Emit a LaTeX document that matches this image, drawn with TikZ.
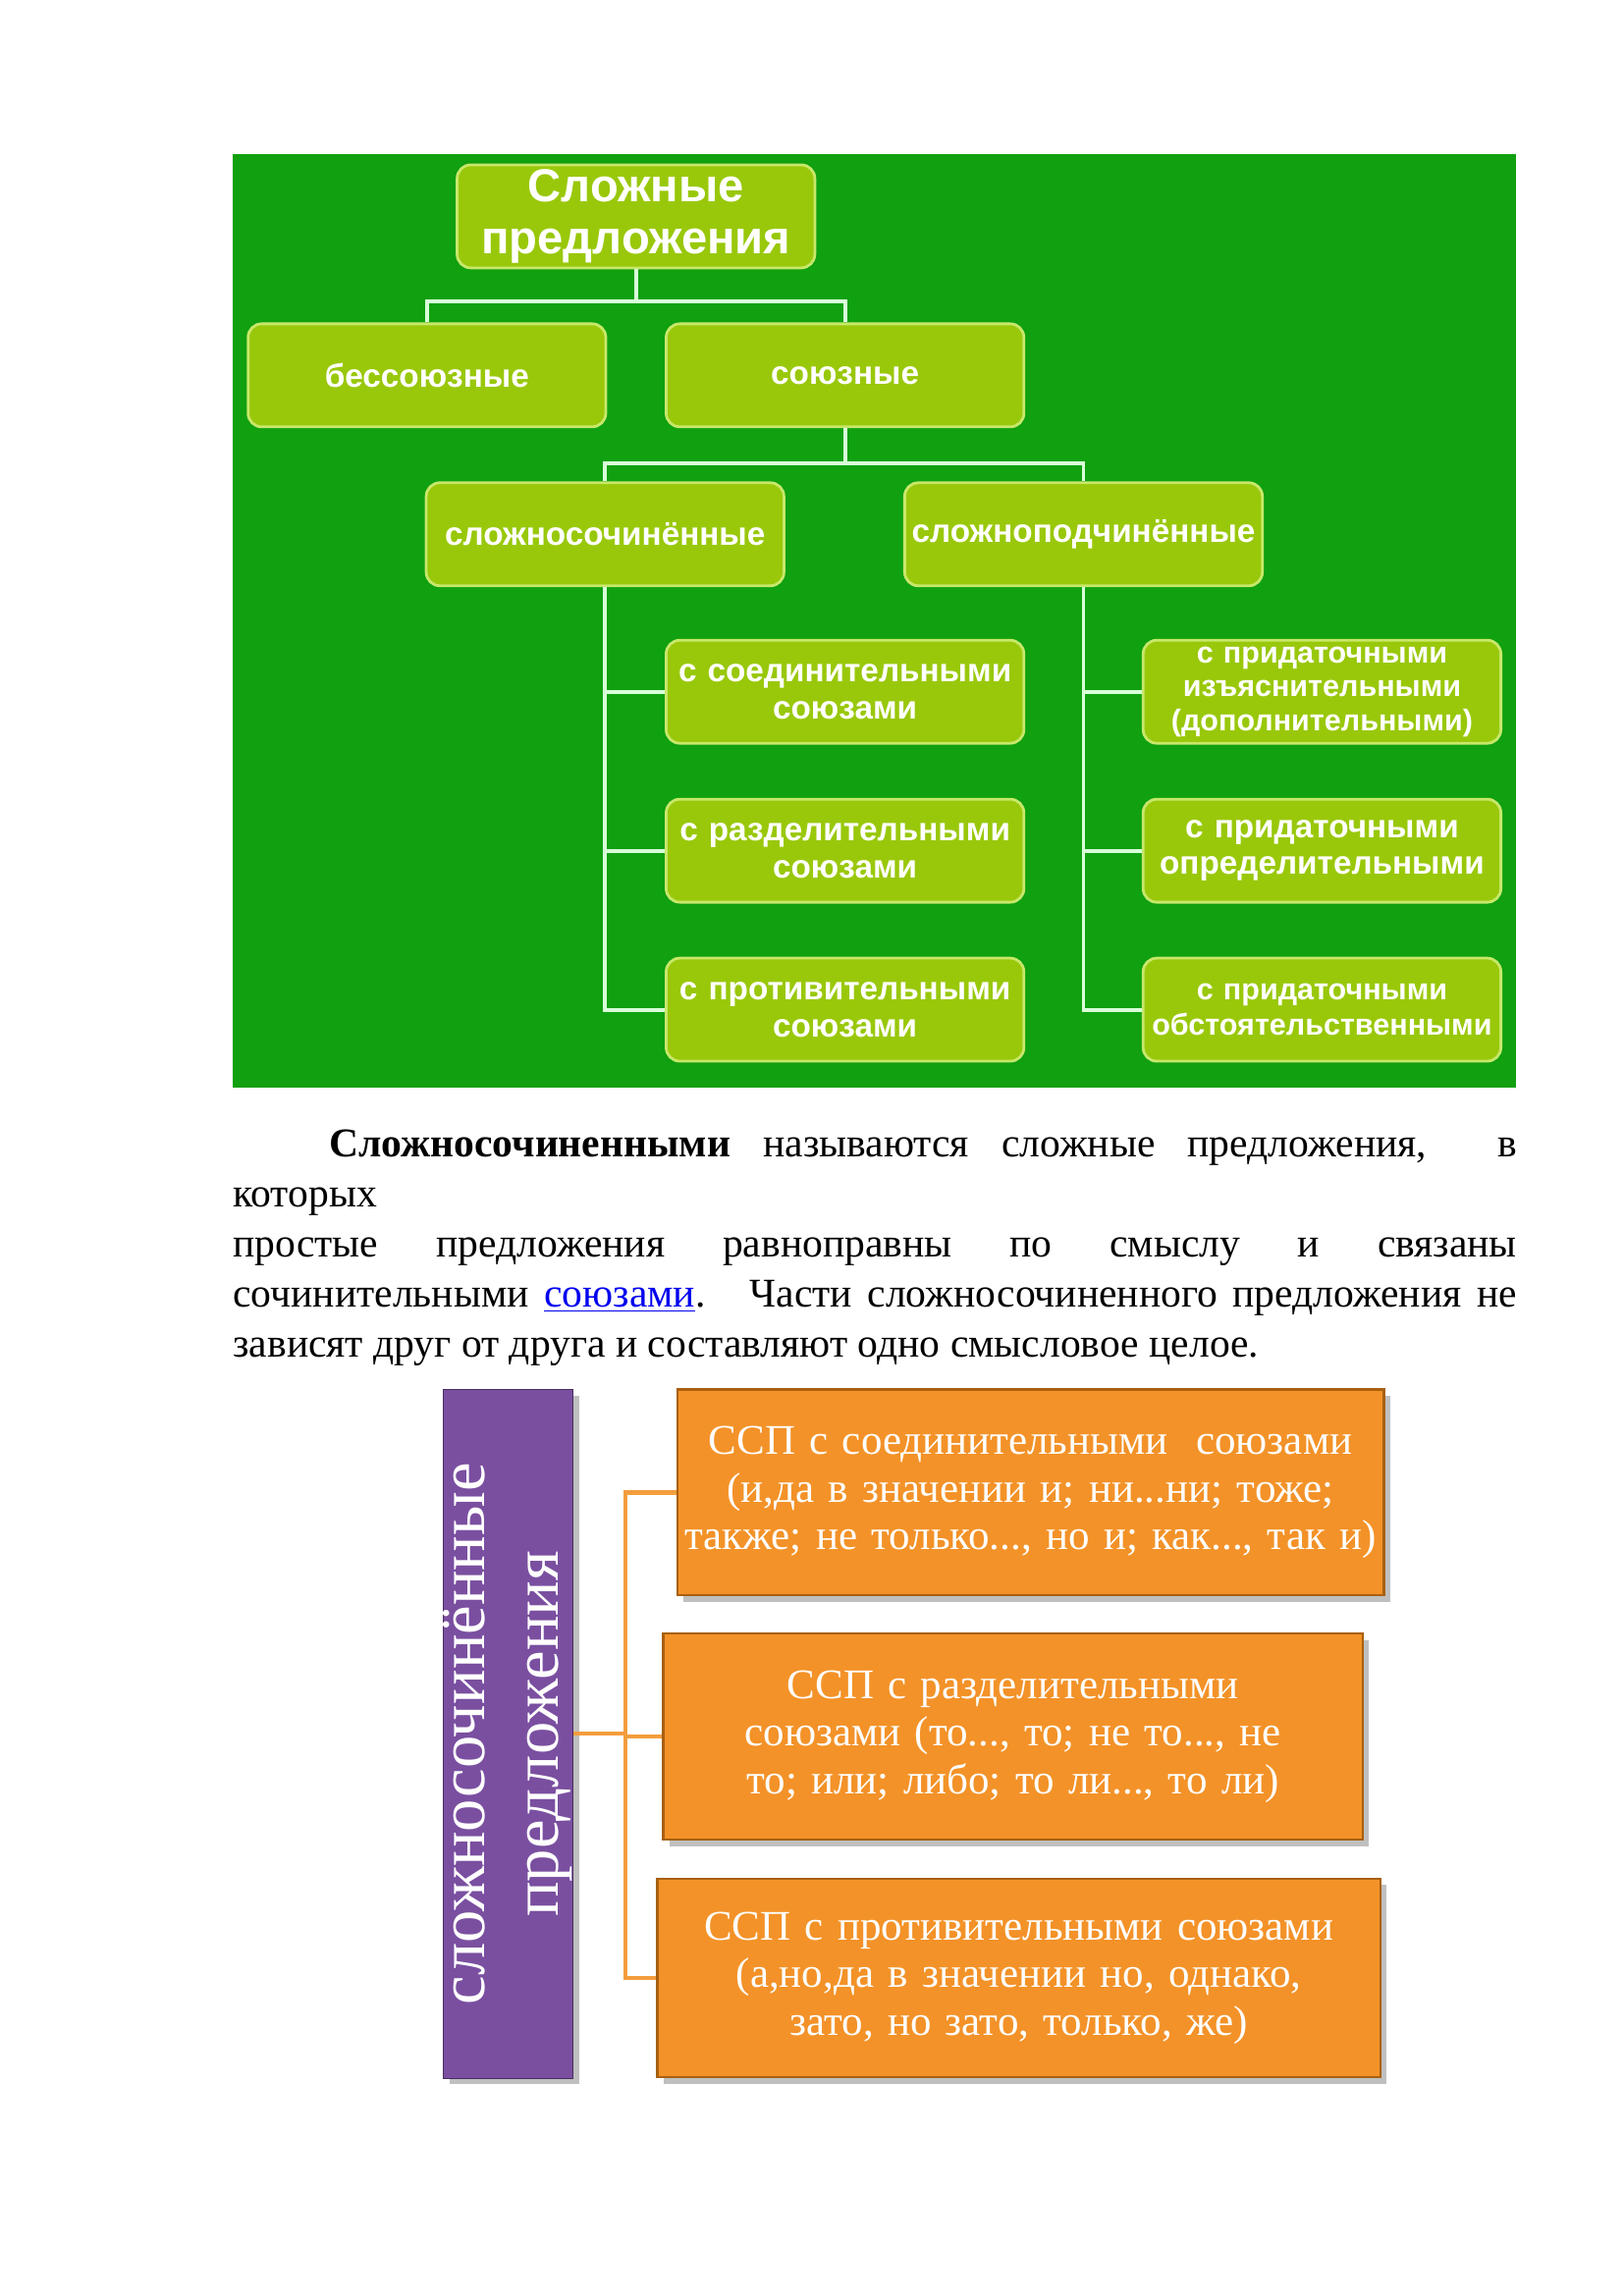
\documentclass[tikz,border=0pt]{standalone}
\usepackage{fontspec}
\setmainfont{Liberation Serif}
\newfontfamily\boxfont{Liberation Sans}
\usetikzlibrary{positioning,shadows}
\definecolor{panelgreen}{HTML}{10A010}
\definecolor{boxgreen}{HTML}{99C80A}
\definecolor{boxline}{HTML}{C8E86A}
\definecolor{ssporange}{HTML}{F39228}
\definecolor{sspline}{HTML}{A86010}
\definecolor{sspviolet}{HTML}{7A4FA0}
\definecolor{linkblue}{HTML}{0000EE}
\tikzset{
  gbox/.style={draw=boxline, line width=1pt, fill=boxgreen, rounded corners=5pt,
    minimum width=243*0.019cm, minimum height=70*0.019cm, inner sep=0pt,
    text width=240*0.019cm, align=center, text=white,
    font=\boxfont\bfseries\fontsize{12}{13.5}\selectfont},
  glink/.style={draw=white!85!green, line width=1.4pt},
  obox/.style={draw=sspline, line width=0.8pt, fill=ssporange, drop shadow,
    align=center, text=white, inner sep=0pt, font=\fontsize{15.5}{17.5}\selectfont},
  olink/.style={draw=ssporange!90!white, line width=1.6pt},
}
\begin{document}
\begin{tikzpicture}[x=0.019cm,y=-0.019cm]
  \useasboundingbox[fill=white] (0,0) rectangle (1103,1560);
  % green panel
  \fill[panelgreen] (158,105) rectangle (1030,739);

  % top levels
  \node[gbox, font=\boxfont\bfseries\fontsize{17}{19}\selectfont] (cp) at (432,147) {Сложные\\предложения};
  \node[gbox] (bs) at (290,255) {бессоюзные};
  \node[gbox] (su) at (574,255) {союзные};
  \node[gbox] (sch) at (411,363) {сложносочинённые};
  \node[gbox] (spch) at (736,363) {сложноподчинённые};

  % children
  \node[gbox] (s1) at (574,470) {с соединительными\\союзами};
  \node[gbox] (s2) at (574,578) {с разделительными\\союзами};
  \node[gbox] (s3) at (574,686) {с противительными\\союзами};
  \node[gbox, font=\boxfont\bfseries\fontsize{11}{12.5}\selectfont] (p1) at (898,470) {с придаточными\\изъяснительными\\(дополнительными)};
  \node[gbox] (p2) at (898,578) {с придаточными\\определительными};
  \node[gbox, font=\boxfont\bfseries\fontsize{11}{13}\selectfont] (p3) at (898,686) {с придаточными\\обстоятельственными};

  % connectors
  \coordinate (j1) at (432,205);
  \coordinate (j2) at (574,315);
  \draw[glink] (cp.south) -- (j1) -| (bs.north);
  \draw[glink] (j1) -| (su.north);
  \draw[glink] (su.south) -- (j2) -| (sch.north);
  \draw[glink] (j2) -| (spch.north);
  \foreach \c in {s1,s2,s3}
    \draw[glink] (sch.south) |- (\c.west);
  \foreach \c in {p1,p2,p3}
    \draw[glink] (spch.south) |- (\c.west);

  % paragraph
  \node[anchor=north west, text width=872*0.019cm, align=justify, inner sep=0pt,
    font=\fontsize{15}{18.4}\selectfont] (txt) at (158,767) {\hspace*{2.35em}\textbf{Сложносочиненными} называются сложные предложения, \ в которых\linebreak простые предложения равноправны по смыслу и связаны\linebreak сочинительными {\color{linkblue}\underline{союзами}}. \ Части сложносочиненного предложения не\linebreak зависят друг от друга и составляют одно смысловое целое.};

  % bottom scheme
  \node[draw=sspviolet!60!black, fill=sspviolet, drop shadow, minimum width=88*0.019cm,
    minimum height=468*0.019cm, inner sep=0pt] (ssp) at (345,1178) {};
  \node[rotate=90, align=center, text=white, font=\fontsize{24}{27}\selectfont] at (ssp.center) {сложносочинённые\\предложения};
  \node[obox, minimum width=480*0.019cm, minimum height=140*0.019cm, text width=480*0.019cm] (o1) at (700,1014) {ССП с соединительными \ союзами (и,да в значении и; ни...ни; тоже; также; не только..., но и; как..., так и)};
  \node[obox, minimum width=475*0.019cm, minimum height=140*0.019cm, text width=470*0.019cm] (o2) at (688,1180) {ССП с разделительными союзами (то..., то; не то..., не то; или; либо; то ли..., то ли)};
  \node[obox, minimum width=491*0.019cm, minimum height=135*0.019cm, text width=491*0.019cm] (o3) at (692,1344) {ССП с противительными союзами (а,но,да в значении но, однако, зато, но зато, только, же)};
  \coordinate (oj) at (425,1178);
  \draw[olink] (ssp.east) -- (oj);
  \foreach \o in {o1,o2,o3}
    \draw[olink] (oj) |- (\o.west);
\end{tikzpicture}
\end{document}
